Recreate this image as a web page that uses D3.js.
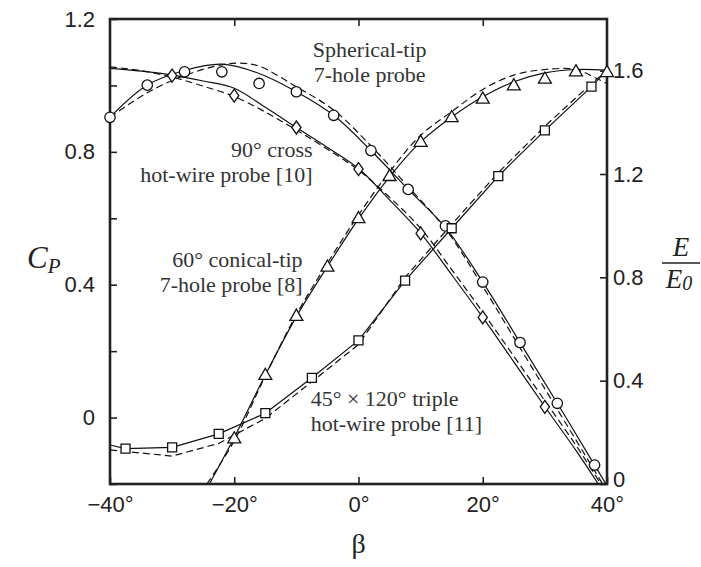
<!DOCTYPE html>
<html>
<head>
<meta charset="utf-8">
<script src="https://cdn.jsdelivr.net/npm/d3@7"></script>
<style>
    body { margin: 0; background: #fff; }
    .tick text { font-family: "Liberation Sans", Arial, sans-serif; font-size: 22px; fill: #222; }
    .tick line { stroke: #222; stroke-width: 1.6; }
    .note { font-family: "Liberation Serif", "Times New Roman", serif; font-size: 22px; fill: #333; }
    .axis-title { font-family: "Liberation Serif", "Times New Roman", serif; fill: #222; }
</style>
</head>
<body>
<div id="chart"></div>
<script>
// tick values
const betaTicks = [-40, -20, 0, 20, 40];
const cpTicks = [-0.2, 0, 0.2, 0.4, 0.6, 0.8, 1.0, 1.2];
const cpLabels = [0, 0.4, 0.8, 1.2];
const eTicks = [0, 0.4, 0.8, 1.2, 1.6];

// spherical-tip 7-hole probe (circles, Cp)
const sphericalPts = [[-40, 0.904], [-34, 1.001], [-28, 1.041], [-22, 1.041], [-16, 1.006], [-10, 0.981], [-4, 0.910],
    [2, 0.804], [8, 0.687], [14, 0.577], [20, 0.408], [26, 0.226], [32, 0.043], [38, -0.143]];
const sphericalFit = [[-40, 0.904], [-34, 1.001], [-28, 1.045], [-22, 1.064], [-16, 1.036], [-10, 0.981], [-4, 0.910],
    [2, 0.804], [8, 0.687], [14, 0.572], [20, 0.408], [26, 0.226], [32, 0.043], [38, -0.143], [40, -0.205]];
const sphericalDash = [[-40, 0.904], [-34, 0.978], [-28, 1.03], [-22, 1.062], [-19, 1.067], [-16, 1.058], [-10, 0.996],
    [-4, 0.926], [2, 0.818], [8, 0.695], [14, 0.568], [20, 0.395], [26, 0.21], [32, 0.025], [38, -0.16], [40, -0.222]];

// 90 deg cross hot-wire probe (diamonds, E/E0)
const crossPts = [[-30, 1.581], [-20, 1.503], [-10, 1.380], [0, 1.219], [10, 0.970], [20, 0.645], [30, 0.299]];
const crossFit = [[-40, 1.609], [-35, 1.598], [-30, 1.583], [-25, 1.56], [-20, 1.532], [-15, 1.458], [-10, 1.38],
    [-5, 1.303], [0, 1.221], [5, 1.10], [10, 0.971], [15, 0.81], [20, 0.645], [25, 0.473], [30, 0.299], [35, 0.13], [38.6, 0]];
const crossDash = [[-40, 1.615], [-35, 1.60], [-30, 1.575], [-25, 1.54], [-20, 1.50], [-15, 1.44], [-10, 1.37],
    [-5, 1.296], [0, 1.215], [5, 1.11], [10, 0.99], [15, 0.83], [20, 0.665], [25, 0.495], [30, 0.322], [35, 0.15], [39, 0]];

// 60 deg conical-tip 7-hole probe (triangles, Cp)
const conicalPts = [[-20, -0.065], [-15, 0.126], [-10, 0.304], [-5, 0.452], [0, 0.598], [5, 0.725], [10, 0.828],
    [15, 0.902], [20, 0.958], [25, 0.998], [30, 1.018], [35, 1.040], [40, 1.038]];
const conicalFit = [[-24, -0.2], [-20, -0.06], [-15, 0.128], [-10, 0.304], [-5, 0.455], [0, 0.598], [5, 0.725],
    [10, 0.83], [15, 0.905], [20, 0.966], [25, 1.011], [30, 1.038], [35, 1.048], [40, 1.046]];
const conicalDash = [[-24.4, -0.2], [-20, -0.07], [-15, 0.125], [-10, 0.31], [-5, 0.465], [0, 0.61], [5, 0.74],
    [10, 0.85], [15, 0.921], [20, 0.988], [25, 1.031], [30, 1.048], [35, 1.048], [38, 1.024], [40, 1.006]];

// 45 x 120 deg triple hot-wire probe (squares, E/E0)
const triplePts = [[-37.5, 0.137], [-30, 0.142], [-22.5, 0.194], [-15, 0.274], [-7.5, 0.411], [0, 0.556],
    [7.5, 0.787], [15, 0.990], [22.5, 1.192], [30, 1.369], [37.5, 1.538]];
const tripleFit = [[-40, 0.151], [-37.5, 0.137], [-30, 0.142], [-22.5, 0.194], [-15, 0.274], [-7.5, 0.411], [0, 0.556],
    [7.5, 0.787], [15, 0.990], [22.5, 1.192], [30, 1.369], [37.5, 1.538], [40, 1.603]];
const tripleDash = [[-40, 0.132], [-30, 0.108], [-22.5, 0.157], [-15, 0.254], [-7.5, 0.396], [0, 0.54],
    [7.5, 0.80], [15, 1.005], [22.5, 1.205], [30, 1.385], [37.5, 1.55], [40, 1.60]];

// annotation texts
const sphericalNote = ["Spherical-tip", "7-hole probe"];
const crossNote = ["90° cross", "hot-wire probe [10]"];
const conicalNote = ["60° conical-tip", "7-hole probe [8]"];
const tripleNote = ["45° × 120° triple", "hot-wire probe [11]"];

const margin = { top: 19, right: 94, bottom: 83, left: 110 };
const width = 701 - margin.left - margin.right;
const height = 567 - margin.top - margin.bottom;

const svg = d3.select("#chart")
    .append("svg")
    .attr("width", 701)
    .attr("height", 567)
    .append("g")
    .attr("transform", `translate(${margin.left},${margin.top})`);

const x = d3.scaleLinear().domain([-40, 40]).range([0, width]);
const yCp = d3.scaleLinear().domain([-0.2, 1.2]).range([height, 0]);
const yE = d3.scaleLinear().domain([0, 1.8]).range([height, 0]);

svg.append("clipPath").attr("id", "plot-clip")
    .append("rect").attr("width", width).attr("height", height);

// axes, ticks point inward
const degFmt = d => (d < 0 ? "\u2212" + Math.abs(d) : d) + "°";

svg.append("g")
    .attr("transform", `translate(0,${height})`)
    .call(d3.axisBottom(x).tickValues(betaTicks).tickSize(-7).tickPadding(12).tickFormat(degFmt));

svg.append("g")
    .call(d3.axisTop(x).tickValues([-20, 0, 20]).tickSize(-7).tickFormat(""));

svg.append("g")
    .call(d3.axisLeft(yCp).tickValues(cpTicks).tickSize(-7).tickPadding(15)
        .tickFormat(d => cpLabels.includes(d) ? String(d) : ""));

const rightAxis = svg.append("g")
    .attr("transform", `translate(${width},0)`)
    .call(d3.axisRight(yE).tickValues(eTicks).tickSize(-7).tickPadding(6).tickFormat(d => String(d)));

// lift the corner "0" a little so it clears the 40° label
rightAxis.selectAll(".tick text").filter(d => d === 0).attr("dy", "0.12em");

svg.selectAll(".domain").remove();

svg.append("rect")
    .attr("width", width)
    .attr("height", height)
    .attr("fill", "none")
    .attr("stroke", "#222")
    .attr("stroke-width", 2.6);

// curves
const plot = svg.append("g").attr("clip-path", "url(#plot-clip)");

function drawCurve(pts, yScale, dashed, curve) {
    const line = d3.line()
        .x(d => x(d[0]))
        .y(d => yScale(d[1]))
        .curve(curve);
    plot.append("path")
        .datum(pts)
        .attr("d", line)
        .attr("fill", "none")
        .attr("stroke", "#111")
        .attr("stroke-width", 1.2)
        .attr("stroke-dasharray", dashed ? "7,4" : null);
}

drawCurve(sphericalDash, yCp, true, d3.curveCatmullRom);
drawCurve(sphericalFit, yCp, false, d3.curveCatmullRom);
drawCurve(crossDash, yE, true, d3.curveCatmullRom);
drawCurve(crossFit, yE, false, d3.curveCatmullRom);
drawCurve(conicalDash, yCp, true, d3.curveCatmullRom);
drawCurve(conicalFit, yCp, false, d3.curveCatmullRom);
drawCurve(tripleDash, yE, true, d3.curveLinear);
drawCurve(tripleFit, yE, false, d3.curveLinear);

// markers
const diamond = "M0,-6.5L4.6,0L0,6.5L-4.6,0Z";

function drawMarkers(pts, yScale, pathStr) {
    svg.append("g").selectAll("path")
        .data(pts)
        .enter()
        .append("path")
        .attr("transform", d => `translate(${x(d[0])},${yScale(d[1])})`)
        .attr("d", pathStr)
        .attr("fill", "#fff")
        .attr("stroke", "#111")
        .attr("stroke-width", 1.3);
}

drawMarkers(sphericalPts, yCp, d3.symbol().type(d3.symbolCircle).size(85)());
drawMarkers(crossPts, yE, diamond);
drawMarkers(conicalPts, yCp, d3.symbol().type(d3.symbolTriangle).size(72)());
drawMarkers(triplePts, yE, d3.symbol().type(d3.symbolSquare).size(81)());

// annotations
function note(lines, px, py, anchor) {
    const t = svg.append("text")
        .attr("class", "note")
        .attr("text-anchor", anchor);
    lines.forEach((s, i) => {
        t.append("tspan").attr("x", px).attr("y", py + i * 25).text(s);
    });
}

note(sphericalNote, x(1.8), 57 - margin.top, "middle");
note(crossNote, x(-7.4), 157 - margin.top, "end");
note(conicalNote, x(-9.0), 267 - margin.top, "end");
note(tripleNote, x(-7.7), 406 - margin.top, "start");

// axis titles
const cpTitle = svg.append("text")
    .attr("class", "axis-title")
    .attr("x", 27 - margin.left)
    .attr("y", 268 - margin.top)
    .style("font-style", "italic")
    .style("font-size", "31px")
    .text("C");
cpTitle.append("tspan").attr("dy", 5).style("font-size", "21px").text("P");

const ex = 681 - margin.left;
svg.append("text")
    .attr("class", "axis-title")
    .attr("x", ex).attr("y", 256 - margin.top)
    .attr("text-anchor", "middle")
    .style("font-style", "italic")
    .style("font-size", "27px")
    .text("E");
svg.append("line")
    .attr("x1", ex - 19).attr("x2", ex + 19)
    .attr("y1", 263 - margin.top).attr("y2", 263 - margin.top)
    .attr("stroke", "#222").attr("stroke-width", 1.4);
const e0 = svg.append("text")
    .attr("class", "axis-title")
    .attr("x", ex - 2).attr("y", 288 - margin.top)
    .attr("text-anchor", "middle")
    .style("font-style", "italic")
    .style("font-size", "27px")
    .text("E");
e0.append("tspan").style("font-size", "20px").attr("dy", 2).text("0");

svg.append("text")
    .attr("class", "axis-title")
    .attr("x", x(0))
    .attr("y", 553 - margin.top)
    .attr("text-anchor", "middle")
    .style("font-size", "28px")
    .text("β");
</script>
</body>
</html>
